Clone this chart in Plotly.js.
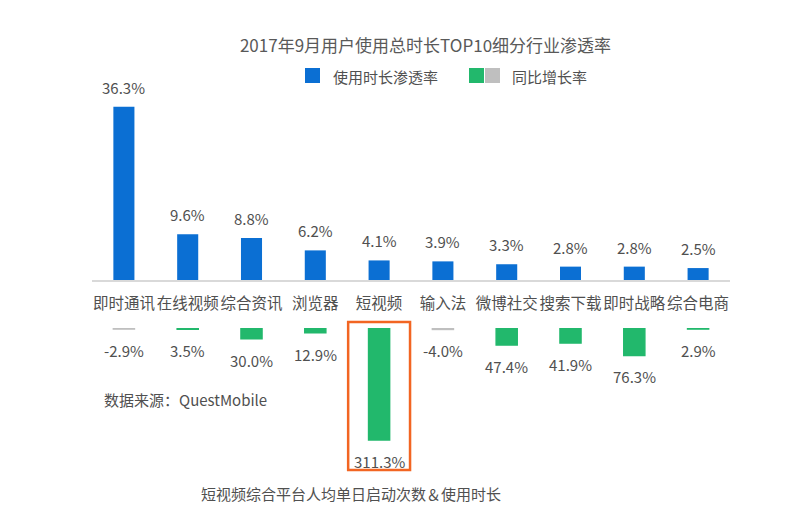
<!DOCTYPE html>
<html>
<head>
<meta charset="utf-8">
<script src="https://cdn.plot.ly/plotly-3.0.1.min.js"></script>
<style>html,body{margin:0;padding:0;background:#fff;}#chart{width:800px;height:516px;}</style>
</head>
<body>
<div id="chart"></div>
<script>
const categories = ['即时通讯','在线视频','综合资讯','浏览器','短视频','输入法','微博社交','搜索下载','即时战略','综合电商'];
const penetration = [36.3, 9.6, 8.8, 6.2, 4.1, 3.9, 3.3, 2.8, 2.8, 2.5];
const growth = [-2.9, 3.5, 30.0, 12.9, 311.3, -4.0, 47.4, 41.9, 76.3, 2.9];

const BLUE = '#0b6fd3', GREEN = '#22b86c', GRAY = '#bfbfbf', TXT = '#505050';
const FONT = '"Noto Sans CJK SC", "Noto Sans", sans-serif';

const H = 516, W = 800, ML = 92, MR = 70;
const py = p => 1 - p / H;
const px = p => (p - ML) / (W - ML - MR);

const growthColors = growth.map(v => v >= 0 ? GREEN : GRAY);

const traces = [
  {
    type: 'bar', x: categories, y: penetration, xaxis: 'x', yaxis: 'y',
    marker: {color: BLUE}, width: 0.33,
    hoverinfo: 'skip', showlegend: false
  },
  {
    type: 'bar', x: categories, y: growth.map(v => Math.abs(v)), xaxis: 'x', yaxis: 'y2',
    marker: {color: growthColors, line: {color: growthColors, width: 1.5}},
    width: 0.33,
    hoverinfo: 'skip', showlegend: false
  }
];

const valueLabels = penetration.map((v, i) => ({
  xref: 'x', yref: 'y', x: categories[i], y: v, xanchor: 'center', yanchor: 'bottom',
  yshift: 7, text: v.toFixed(1) + '%', showarrow: false,
  font: {size: 15, color: TXT, family: FONT}
}));
const growthLabels = growth.map((v, i) => ({
  xref: 'x', yref: 'y2', x: categories[i], y: Math.abs(v), xanchor: 'center', yanchor: 'top',
  yshift: -9, text: v.toFixed(1) + '%', showarrow: false,
  font: {size: 15, color: TXT, family: FONT}
}));

const layout = {
  width: W, height: H,
  margin: {l: ML, r: MR, t: 0, b: 0},
  paper_bgcolor: '#fff', plot_bgcolor: 'rgba(0,0,0,0)',
  font: {family: FONT, color: TXT},
  showlegend: false,
  title: {text: '2017年9月用户使用总时长TOP10细分行业渗透率', x: (233 + 618) / 2 / W, xanchor: 'center', y: py(46), yanchor: 'middle', font: {size: 17, color: '#595959', family: FONT}},
  xaxis: {
    anchor: 'y', type: 'category', showline: true, linecolor: '#d9d9d9', linewidth: 2,
    ticks: '', showgrid: false, zeroline: false, ticklabelstandoff: 8, tickangle: 0,
    tickfont: {size: 15.5, color: TXT, family: FONT}
  },
  yaxis: {domain: [py(280), py(89)], range: [0, 40], visible: false, showgrid: false, zeroline: false},
  yaxis2: {domain: [py(454), py(328)], range: [350, 0], visible: false, showgrid: false, zeroline: false},
  bargap: 0.67,
  shapes: [
    {type: 'rect', xref: 'x', yref: 'paper', x0: 4 - 0.485, x1: 4 + 0.485, y0: py(470), y1: py(322),
     line: {color: '#f26522', width: 2.5}, fillcolor: 'rgba(0,0,0,0)'},
    {type: 'rect', xref: 'paper', yref: 'paper', x0: px(305), x1: px(320), y0: py(83), y1: py(68), line: {width: 0}, fillcolor: BLUE},
    {type: 'rect', xref: 'paper', yref: 'paper', x0: px(469), x1: px(484), y0: py(83), y1: py(68), line: {width: 0}, fillcolor: GREEN},
    {type: 'rect', xref: 'paper', yref: 'paper', x0: px(485), x1: px(500), y0: py(83), y1: py(68), line: {width: 0}, fillcolor: GRAY}
  ],
  annotations: [
    {xref: 'paper', yref: 'paper', x: px(331), y: py(76), xanchor: 'left', yanchor: 'middle',
     text: '使用时长渗透率', showarrow: false, font: {size: 15, color: TXT, family: FONT}},
    {xref: 'paper', yref: 'paper', x: px(510), y: py(76), xanchor: 'left', yanchor: 'middle',
     text: '同比增长率', showarrow: false, font: {size: 15, color: TXT, family: FONT}},
    {xref: 'paper', yref: 'paper', x: px(102), y: py(399), xanchor: 'left', yanchor: 'middle',
     text: '数据来源：QuestMobile', showarrow: false, font: {size: 15, color: TXT, family: FONT}},
    {xref: 'paper', yref: 'paper', x: px(351), y: py(493), xanchor: 'center', yanchor: 'middle',
     text: '短视频综合平台人均单日启动次数＆使用时长', showarrow: false, font: {size: 15, color: TXT, family: FONT}}
  ].concat(valueLabels, growthLabels)
};

Plotly.newPlot('chart', traces, layout, {displayModeBar: false, staticPlot: true});
</script>
</body>
</html>
